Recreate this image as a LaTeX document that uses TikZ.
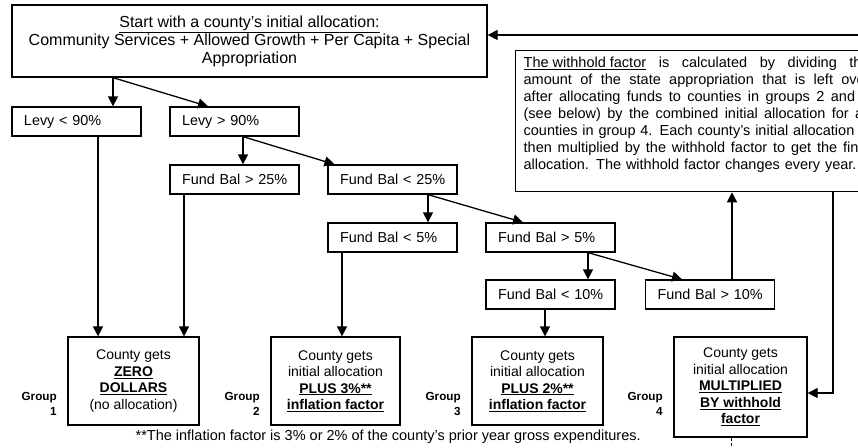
\documentclass[tikz,border=0pt]{standalone}
\usepackage{fontspec}
\setmainfont{Liberation Sans}
\usetikzlibrary{arrows.meta}
\newcommand\wline[1]{{\spaceskip=0.278em plus 1em minus 0.05em\relax\makebox[346pt][s]{#1}}}

\begin{document}
\begin{tikzpicture}[x=1pt, y=-1pt, line width=1.3pt,
        arr/.style={-{Triangle[length=10pt,width=10pt]}},
        cond/.style={draw, rectangle, minimum height=29pt, inner sep=0pt, text width=129pt, align=left, execute at begin node={\hspace*{12pt}}, font=\fontsize{14.4}{16}\selectfont},
        result/.style={draw, rectangle, minimum width=131pt, minimum height=88pt, inner sep=0pt, align=center, font=\fontsize{14}{16.5}\selectfont},
        grplabel/.style={anchor=east, align=right, inner sep=0pt, xshift=-10pt, font=\bfseries\fontsize{11.7}{15}\selectfont}]
        \useasboundingbox (0,0) rectangle (858,447);
        \clip (0,0) rectangle (858,447);

        \node[draw, minimum width=475pt, minimum height=72pt, align=center, font=\fontsize{16}{18}\selectfont] (start) at (249.5,41)
            {\underline{Start with a county's initial allocation:}\\Community Services + Allowed Growth + Per Capita + Special\\Appropriation};

        \node[cond] (levyLo) at (76.5,121.5) {Levy < 90\%};
        \node[cond] (levyHi) at (234.5,121.5) {Levy > 90\%};
        \node[cond] (fbHiA) at (234.5,179.5) {Fund Bal > 25\%};
        \node[cond] (fbLoA) at (392.5,179.5) {Fund Bal < 25\%};
        \node[cond] (fbLoB) at (392.5,237.5) {Fund Bal < 5\%};
        \node[cond] (fbHiB) at (550.5,237.5) {Fund Bal > 5\%};
        \node[cond] (fbLoC) at (550.5,294.5) {Fund Bal < 10\%};
        \node[cond] (fbHiC) at (710,294.5) {Fund Bal > 10\%};

        \node[draw, minimum width=365pt, minimum height=141pt, anchor=north west] (wbox) at (515,50) {};
        \node[anchor=north west, inner sep=0pt, text width=346pt, font=\fontsize{14.5}{17}\selectfont] (wtext) at (523,56)
            {\wline{\underline{The withhold factor} is calculated by dividing the}\\
            \wline{amount of the state appropriation that is left over}\\
            \wline{after allocating funds to counties in groups 2 and 3}\\
            \wline{(see below) by the combined initial allocation for all}\\
            \wline{counties in group 4. Each county's initial allocation is}\\
            \wline{then multiplied by the withhold factor to get the final}\\
            allocation. The withhold factor changes every year.};

        \node[result] (grpA) at (133.5,381) {County gets\\\underline{\textbf{ZERO}}\\\underline{\textbf{DOLLARS}}\\(no allocation)};
        \node[result, minimum width=129pt] (grpB) at (335.5,381) {County gets\\initial allocation\\\underline{\textbf{PLUS 3\%**}}\\\underline{\textbf{inflation factor}}};
        \node[result] (grpC) at (537.5,381) {County gets\\initial allocation\\\underline{\textbf{PLUS 2\%**}}\\\underline{\textbf{inflation factor}}};
        \node[result, minimum width=133pt, minimum height=100pt] (grpD) at (740.5,387) {County gets\\initial allocation\\\underline{\textbf{MULTIPLIED}}\\\underline{\textbf{BY withhold}}\\\underline{\textbf{factor}}};

        \coordinate (grpRow) at (0,404);
        \node[grplabel] (labA) at (grpA.west |- grpRow) {Group\\1};
        \node[grplabel] (labB) at (grpB.west |- grpRow) {Group\\2};
        \node[grplabel] (labC) at (grpC.west |- grpRow) {Group\\3};
        \node[grplabel] (labD) at (grpD.west |- grpRow) {Group\\4};

        \node[anchor=west, inner sep=0pt, font=\fontsize{14.5}{16}\selectfont] (note) at (135,437)
            {**The inflation factor is 3\% or 2\% of the county's prior year gross expenditures.};

        \draw[arr] ([xshift=36.5pt]levyLo.north |- start.south) -- ([xshift=36.5pt]levyLo.north);
        \draw[arr] ([xshift=36.5pt]levyLo.north |- start.south) -- ([xshift=-26.5pt]levyHi.north);
        \draw[arr] ([xshift=8.5pt]levyHi.south) -- ([xshift=8.5pt]fbHiA.north);
        \draw[arr] ([xshift=8.5pt]levyHi.south) -- ([xshift=-58pt]fbLoA.north);
        \draw[arr] ([xshift=35.5pt]fbLoA.south) -- ([xshift=35.5pt]fbLoB.north);
        \draw[arr] ([xshift=35.5pt]fbLoA.south) -- ([xshift=-27.5pt]fbHiB.north);
        \draw[arr] ([xshift=37.5pt]fbHiB.south) -- ([xshift=37.5pt]fbLoC.north);
        \draw[arr] ([xshift=37.5pt]fbHiB.south) -- ([xshift=-28pt]fbHiC.north);

        \draw[arr] ([xshift=21.5pt]levyLo.south) -- ([xshift=21.5pt]levyLo.south |- grpA.north);
        \draw[arr] ([xshift=-50.5pt]fbHiA.south) -- ([xshift=-50.5pt]fbHiA.south |- grpA.north);
        \draw[arr] ([xshift=-50.5pt]fbLoB.south) -- ([xshift=-50.5pt]fbLoB.south |- grpB.north);
        \draw[arr] ([xshift=-5.5pt]fbLoC.south) -- ([xshift=-5.5pt]fbLoC.south |- grpC.north);
        \draw[arr] ([xshift=22pt]fbHiC.north) -- ([xshift=22pt]fbHiC.north |- wbox.south);

        \coordinate (turn) at (833,393);
        \draw[arr] (turn |- wbox.south) -- (turn) -- (turn -| grpD.east);
        \coordinate (back) at (900,35);
        \draw[arr] (back) -- (back -| start.east);
        \draw[densely dashed, line width=0.8pt] ([xshift=-9.5pt]grpD.south) -- ++(0,12);
    \end{tikzpicture}
\end{document}
